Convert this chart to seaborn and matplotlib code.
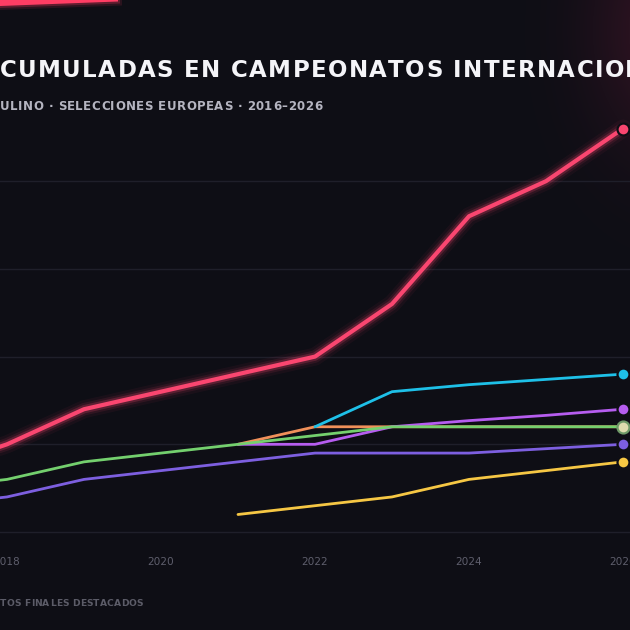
import numpy as np
import pandas as pd
import matplotlib
matplotlib.use("Agg")
import matplotlib.pyplot as plt
from matplotlib.patches import Polygon
from matplotlib.font_manager import FontProperties, findfont
from matplotlib.ft2font import FT2Font
import seaborn as sns

try:
    from matplotlib.ft2font import LoadFlags
    NO_HINT = LoadFlags.NO_HINTING
except ImportError:
    from matplotlib.ft2font import LOAD_NO_HINTING as NO_HINT

W, H = 630, 630

years = [2016, 2017, 2018, 2019, 2020, 2021, 2022, 2023, 2024, 2025, 2026]

# medallas acumuladas por selección (None = sin datos ese año)
espana = [4, 7, 10, 14, 16, 18, 20, 26, 36, 40, 46]
francia = [None, None, None, None, None, None, 12, 16, 16.8, 17.4, 18]
alemania = [None, None, None, None, None, 10, 10, 12, 12.7, 13.3, 14]
italia = [3, 5, 6, 8, 9, 10, 11, 12, 12, 12, 12]
paises_bajos = [None, None, None, None, None, 10, 12, 12, 12, 12, 12]
portugal = [2, 3, 4, 6, 7, 8, 9, 9, 9, 9.5, 10]
inglaterra = [None, None, None, None, None, 2, 3, 4, 6, 7, 8]

series = ["Países Bajos", "Inglaterra", "Portugal", "Alemania", "Italia", "Francia", "España"]
values = [paises_bajos, inglaterra, portugal, alemania, italia, francia, espana]
colors = ["#f0905a", "#f6c744", "#7d5fe0", "#b65df0", "#74d06e", "#1ec0e8", "#fa4670"]

tick_years = [2016, 2018, 2020, 2022, 2024, 2026]
grid_values = [0, 10, 20, 30, 40]

title = "MEDALLAS ACUMULADAS EN CAMPEONATOS INTERNACIONALES"
subtitle = "FÚTBOL MASCULINO · SELECCIONES EUROPEAS · 2016–2026"
footer = "PUNTOS FINALES DESTACADOS"

BG = "#0e0e15"

rows = []
for name, vals in zip(series, values):
    for y, v in zip(years, vals):
        if v is not None:
            rows.append((name, y, v))
df = pd.DataFrame(rows, columns=["seleccion", "año", "medallas"])

sns.set_theme(style="dark")
plt.rcParams["font.family"] = ["DejaVu Sans"]

fig = plt.figure(figsize=(W / 100, H / 100), dpi=100)
fig.patch.set_facecolor(BG)

# fondo con un resplandor rojizo suave arriba a la derecha
bg = fig.add_axes([0, 0, 1, 1], zorder=-10)
yy, xx = np.mgrid[0:H, 0:W]
glow = np.exp(-(((xx - 665) / 75.0) ** 2 + ((yy - 30) / 120.0) ** 2))
base = np.array([14, 14, 21]) / 255.0
img = np.clip(base + glow[..., None] * np.array([0.13, 0.02, 0.05]), 0, 1)
bg.imshow(img, extent=[0, W, H, 0], aspect="auto")
bg.axis("off")

# barra de acento arriba a la izquierda
for pad, a in [(4, 0.12), (2, 0.25), (0, 1.0)]:
    pts = [(0, 0), (118 + pad, 0), (118 + pad, 1.5 + pad), (0, 6 + pad)]
    fig.patches.append(Polygon([(x / W, 1 - y / H) for x, y in pts], closed=True,
                               transform=fig.transFigure, color="#ff3d64", alpha=a, lw=0))

ax = fig.add_axes([-162.4 / W, (H - 540.8) / H, 862.4 / W, (540.8 - 111) / H])
ax.set_facecolor("none")

for i, (name, c) in enumerate(zip(series, colors)):
    sub = df[df["seleccion"] == name]
    main = name == "España"
    z = 10 + i
    if main:
        for lw, a in [(13, 0.05), (9, 0.10), (6, 0.22)]:
            sns.lineplot(data=sub, x="año", y="medallas", color=c, lw=lw, alpha=a,
                         ax=ax, estimator=None, zorder=z, solid_capstyle="round")
    sns.lineplot(data=sub, x="año", y="medallas", color=c, lw=3.0 if main else 2.0,
                 ax=ax, estimator=None, zorder=z, solid_capstyle="round",
                 solid_joinstyle="round")
    last = sub.iloc[-1]
    ax.plot([last["año"] + 0.09, last["año"] + 0.5], [last["medallas"]] * 2,
            color=c, lw=1.2, alpha=0.8, zorder=z)
    if name == "Países Bajos":
        continue
    face = "#dedcae" if name == "Italia" else c
    edge = "#6f9a68" if name == "Italia" else BG
    ax.plot([last["año"]], [last["medallas"]], marker="o", ms=8.6, mfc=face,
            mec=edge, mew=1.6, zorder=30 + i, ls="none")

ax.set_xlim(2015.8, 2027)
ax.set_ylim(-1, 48)
ax.set_xticks(tick_years)
ax.set_yticks(grid_values)
ax.set_xlabel("")
ax.set_ylabel("")
ax.grid(axis="y", color="#1f1f2a", lw=1)
ax.grid(axis="x", visible=False)
for s in ax.spines.values():
    s.set_visible(False)
ax.tick_params(axis="x", length=0, pad=12, labelsize=7.6, labelcolor="#5e5e6c")
ax.tick_params(axis="y", length=0, labelsize=7.6, labelcolor="#5e5e6c")
if ax.get_legend():
    ax.get_legend().remove()


def spaced_text(text, visible_from, x_px, y_px, size, spacing, color, weight="normal"):
    # texto con espaciado entre letras, usando los avances reales de la fuente
    prop = FontProperties(family="DejaVu Sans", weight=weight, size=size)
    font = FT2Font(findfont(prop))
    font.set_size(size, 100)
    adv = []
    for ch in text:
        g = font.load_char(ord(ch), flags=NO_HINT)
        adv.append(g.linearHoriAdvance / 65536.0)
    pen = x_px - (sum(adv[:visible_from]) + visible_from * spacing)
    for i, ch in enumerate(text):
        if ch != " ":
            fig.text(pen / W, 1 - y_px / H, ch, fontproperties=prop,
                     color=color, ha="left", va="baseline")
        pen += adv[i] + spacing


spaced_text(title, title.index("CUMULADAS"), 0, 77, 16.5, 1.4, "#f4f4f8", "bold")
spaced_text(subtitle, subtitle.index("ULINO"), 0, 110, 8.5, 0.5, "#b4b4c0", "bold")
spaced_text(footer, footer.index("TOS"), 0, 606, 6.6, 0.2, "#5c5c68", "bold")

fig.savefig("out.png", dpi=100, facecolor=BG)
